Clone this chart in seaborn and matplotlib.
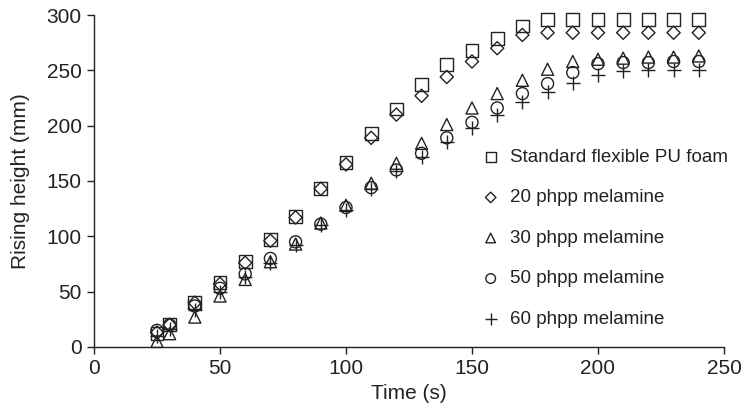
import matplotlib
matplotlib.use("Agg")
import matplotlib.pyplot as plt
import numpy as np
import pandas as pd
import seaborn as sns

#%% Data
time_s = [25, 30, 40, 50, 60, 70, 80, 90, 100, 110, 120, 130, 140, 150,
          160, 170, 180, 190, 200, 210, 220, 230, 240]

standard_pu = [12, 20, 40, 58, 77, 97, 118, 143, 167, 193, 215, 237, 255, 268,
               279, 290, 296, 296, 296, 296, 296, 296, 296]
mel_20 = [13, 20, 40, 57, 76, 96, 117, 143, 165, 189, 210, 227, 244, 258,
          270, 282, 284, 284, 284, 284, 284, 284, 284]
mel_30 = [5, 12, 27, 46, 61, 77, 93, 112, 128, 148, 166, 184, 201, 216,
          229, 241, 251, 258, 260, 261, 262, 262, 263]
mel_50 = [15, 20, 37, 53, 66, 80, 95, 111, 126, 144, 160, 175, 189, 203,
          216, 229, 238, 248, 256, 257, 257, 258, 258]
mel_60 = [10, 16, 33, 50, 63, 76, 92, 110, 124, 143, 159, 172, 185, 198,
          210, 221, 230, 239, 246, 249, 250, 250, 250]

series_names = ["Standard flexible PU foam", "20 phpp melamine", "30 phpp melamine",
                "50 phpp melamine", "60 phpp melamine"]
series_values = [standard_pu, mel_20, mel_30, mel_50, mel_60]
series_markers = ["s", "D", "^", "o", "+"]

frames = []
for name, vals in zip(series_names, series_values):
    frames.append(pd.DataFrame({"Time": time_s, "Height": vals, "Sample": name}))
data = pd.concat(frames, ignore_index=True)

#%% Figure
sns.set_style("ticks")
plt.rcParams['font.family'] = ['Liberation Sans', 'DejaVu Sans']
ink = "#222222"

fig = plt.figure(figsize=(7.42, 4.17), dpi=100)
ax = fig.add_axes([0.1267, 0.168, 0.849, 0.796])

sizes = {"s": 85, "D": 45, "^": 75, "o": 75, "+": 110}
for name, mk in zip(series_names, series_markers):
    sub = data[data["Sample"] == name]
    if mk == "+":
        sns.scatterplot(x="Time", y="Height", data=sub, marker=mk, color=ink,
                        s=sizes[mk], linewidth=1.0, label=name, ax=ax, clip_on=False)
    else:
        sns.scatterplot(x="Time", y="Height", data=sub, marker=mk, facecolor="none",
                        edgecolor=ink, s=sizes[mk], linewidth=1.0, label=name, ax=ax,
                        clip_on=False)

ax.set_xlim(0, 250)
ax.set_ylim(0, 300)
ax.set_xticks(np.arange(0, 251, 50))
ax.set_yticks(np.arange(0, 301, 50))
ax.set_xlabel("Time (s)", fontsize=15, color=ink, labelpad=4)
ax.set_ylabel("Rising height (mm)", fontsize=15, color=ink, labelpad=12)
ax.tick_params(axis="both", labelsize=15, colors=ink, length=5, width=1, pad=4)
sns.despine(ax=ax)
for side in ["left", "bottom"]:
    ax.spines[side].set_color(ink)
    ax.spines[side].set_linewidth(1)

leg = ax.legend(loc="upper left", bbox_to_anchor=(0.588, 0.62), frameon=False,
                fontsize=13.5, labelspacing=1.25, handletextpad=0.05, markerscale=0.8,
                borderaxespad=0)
for t in leg.get_texts():
    t.set_color(ink)

fig.savefig("out.png", dpi=100)
